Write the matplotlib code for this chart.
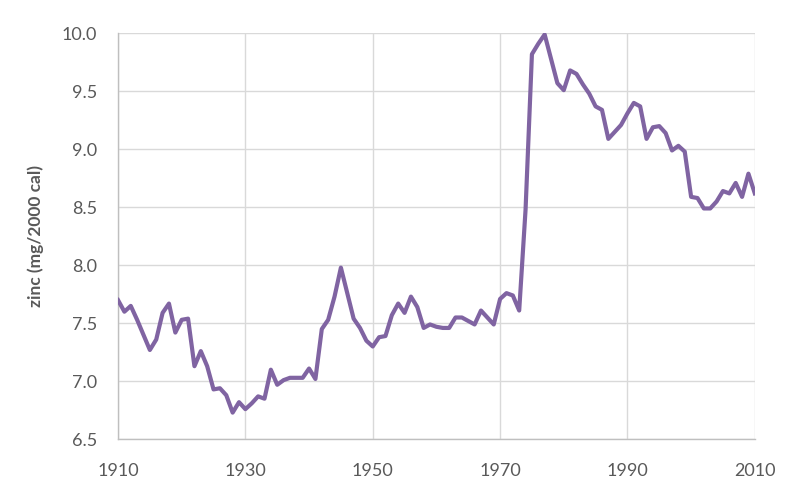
import numpy as np
import matplotlib
matplotlib.use("Agg")
import matplotlib.pyplot as plt

# annual zinc availability, 1910-2010
years = list(range(1910, 2011))
zinc = [
    7.70, 7.60, 7.65, 7.53, 7.40, 7.27, 7.36, 7.59, 7.67, 7.42,  # 1910s
    7.53, 7.54, 7.13, 7.26, 7.13, 6.93, 6.94, 6.88, 6.73, 6.82,  # 1920s
    6.76, 6.81, 6.87, 6.85, 7.10, 6.97, 7.01, 7.03, 7.03, 7.03,  # 1930s
    7.11, 7.02, 7.45, 7.53, 7.73, 7.98, 7.76, 7.54, 7.46, 7.35,  # 1940s
    7.30, 7.38, 7.39, 7.57, 7.67, 7.59, 7.73, 7.64, 7.46, 7.49,  # 1950s
    7.47, 7.46, 7.46, 7.55, 7.55, 7.52, 7.49, 7.61, 7.55, 7.49,  # 1960s
    7.71, 7.76, 7.74, 7.61, 8.48, 9.82, 9.91, 9.99, 9.78, 9.57,  # 1970s
    9.51, 9.68, 9.65, 9.56, 9.48, 9.37, 9.34, 9.09, 9.15, 9.21,  # 1980s
    9.31, 9.40, 9.37, 9.09, 9.19, 9.20, 9.14, 8.99, 9.03, 8.98,  # 1990s
    8.59, 8.58, 8.49, 8.49, 8.55, 8.64, 8.62, 8.71, 8.59, 8.79,  # 2000s
    8.62,
]
xticks = [1910, 1930, 1950, 1970, 1990, 2010]
yticks = np.arange(6.5, 10.01, 0.5)

plt.rcParams['font.family'] = ['Lato', 'DejaVu Sans']

fig = plt.figure(figsize=(8.04, 4.90), dpi=100)
ax = fig.add_axes([0.1468, 0.1035, 0.792, 0.8285])

ax.plot(years, zinc, color='#8064A2', linewidth=3.0, solid_joinstyle='round', zorder=3)

ax.set_xlim(1910, 2010)
ax.set_ylim(6.5, 10.0)
ax.set_xticks(xticks)
ax.set_yticks(yticks)
ax.set_yticklabels(['%.1f' % v for v in yticks])
ax.grid(True, color='#D9D9D9', linewidth=1.0, zorder=0)
ax.tick_params(length=0, labelsize=13, colors='#595959')
ax.tick_params(axis='y', pad=15)
ax.tick_params(axis='x', pad=17)

for s in ['top', 'right']:
    ax.spines[s].set_visible(False)
for s in ['left', 'bottom']:
    ax.spines[s].set_color('#BFBFBF')
    ax.spines[s].set_linewidth(1.0)

ax.set_ylabel('zinc (mg/2000 cal)', fontsize=12.5, fontweight='bold', color='#595959', labelpad=13)

fig.savefig('out.png', dpi=100)
